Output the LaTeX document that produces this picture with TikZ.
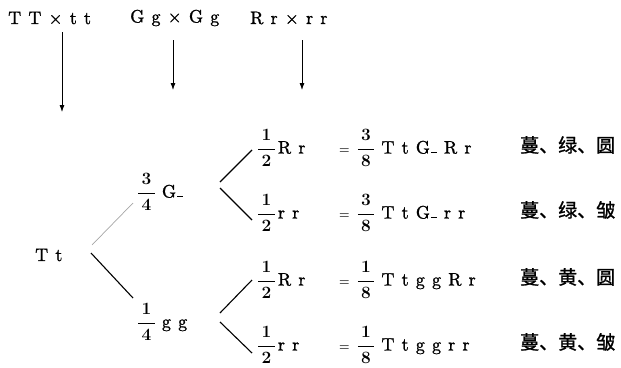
\documentclass[tikz,border=0pt]{standalone}
\usepackage{amsmath}
\usepackage{fontspec}
\usetikzlibrary{arrows.meta}
\newfontfamily\gene{lmroman10-regular.otf}[LetterSpace=40, FakeBold=1.2]
\newfontfamily\cjk{Noto Sans CJK SC}[FakeBold=1.2]
\newcommand{\ratio}[2]{$\genfrac{}{}{1.1pt}{0}{\,#1\,}{\,#2\,}$\hspace{2pt}}
\newcommand{\dom}{\hspace{1pt}\rule{6pt}{1.6pt}\hspace{7pt}}
\newcommand{\eq}{{\fontsize{13}{14}\selectfont$=$}\hspace{7pt}}
\pgfdeclarelayer{edgelayer}
\pgfdeclarelayer{nodelayer}
\pgfsetlayers{edgelayer,nodelayer,main}
\tikzstyle{none}=[inner sep=0pt]
\tikzstyle{gene}=[inner sep=0pt, anchor=west, font=\fontsize{18}{21}\selectfont\gene\boldmath]
\tikzstyle{trait}=[inner sep=0pt, anchor=west, font=\fontsize{19}{22}\selectfont\cjk]
\tikzstyle{cross}=[-{Latex[length=7pt,width=5pt]}, draw=black, line width=0.8pt]
\tikzstyle{branch}=[draw=black, line width=1.1pt]
\tikzstyle{faint}=[draw=black!35, line width=0.7pt]

\begin{document}
\begin{tikzpicture}[x=10pt, y=10pt]
	\useasboundingbox (0, 0) rectangle (62.1, -36.7);
	\begin{pgfonlayer}{nodelayer}
		% parents and offspring
		\node [style=gene] (0) at (0.8, -1.8) {TT×tt};
		\node [style=gene] (1) at (13, -1.8) {Gg×Gg};
		\node [style=gene] (2) at (25, -1.8) {Rr×rr};
		\node [style=gene] (3) at (3.5, -25.5) {Tt};
		\node [style=gene] (4) at (13.7, -19.2) {\ratio34\hspace{4pt}G\dom};
		\node [style=gene] (5) at (13.7, -32.2) {\ratio14\hspace{4pt}gg};
		\node [style=gene] (6) at (25.7, -14.8) {\ratio12Rr};
		\node [style=gene] (7) at (25.7, -21.3) {\ratio12rr};
		\node [style=gene] (8) at (25.7, -28) {\ratio12Rr};
		\node [style=gene] (9) at (25.7, -34.5) {\ratio12rr};
		\node [style=gene] (10) at (33.9, -14.8) {\eq\ratio38\hspace{4pt}TtG\dom Rr};
		\node [style=gene] (11) at (33.9, -21.3) {\eq\ratio38\hspace{4pt}TtG\dom rr};
		\node [style=gene] (12) at (33.9, -28) {\eq\ratio18\hspace{4pt}TtggRr};
		\node [style=gene] (13) at (33.9, -34.5) {\eq\ratio18\hspace{4pt}Ttggrr};
		\node [style=trait] (14) at (52, -14.5) {蔓、绿、圆};
		\node [style=trait] (15) at (52, -21) {蔓、绿、皱};
		\node [style=trait] (16) at (52, -27.7) {蔓、黄、圆};
		\node [style=trait] (17) at (52, -34.2) {蔓、黄、皱};
		% line ends
		\node [style=none] (18) at (6.2, -3.2) {};
		\node [style=none] (19) at (6.2, -11.2) {};
		\node [style=none] (20) at (17.3, -4) {};
		\node [style=none] (21) at (17.3, -9) {};
		\node [style=none] (22) at (30.2, -4) {};
		\node [style=none] (23) at (30.2, -9) {};
		\node [style=none] (24) at (9.2, -24.5) {};
		\node [style=none] (25) at (13.3, -20.3) {};
		\node [style=none] (26) at (9.1, -25.3) {};
		\node [style=none] (27) at (13.3, -29.8) {};
		\node [style=none] (28) at (22, -18.2) {};
		\node [style=none] (29) at (25.2, -15) {};
		\node [style=none] (30) at (22, -18.8) {};
		\node [style=none] (31) at (25.2, -22) {};
		\node [style=none] (32) at (22, -31.3) {};
		\node [style=none] (33) at (25.2, -28) {};
		\node [style=none] (34) at (22, -32.2) {};
		\node [style=none] (35) at (25.2, -35.3) {};
	\end{pgfonlayer}
	\begin{pgfonlayer}{edgelayer}
		\draw [style=cross] (18.center) to (19.center);
		\draw [style=cross] (20.center) to (21.center);
		\draw [style=cross] (22.center) to (23.center);
		\draw [style=faint] (24.center) to (25.center);
		\draw [style=branch] (26.center) to (27.center);
		\draw [style=branch] (28.center) to (29.center);
		\draw [style=branch] (30.center) to (31.center);
		\draw [style=branch] (32.center) to (33.center);
		\draw [style=branch] (34.center) to (35.center);
	\end{pgfonlayer}
\end{tikzpicture}
\end{document}
